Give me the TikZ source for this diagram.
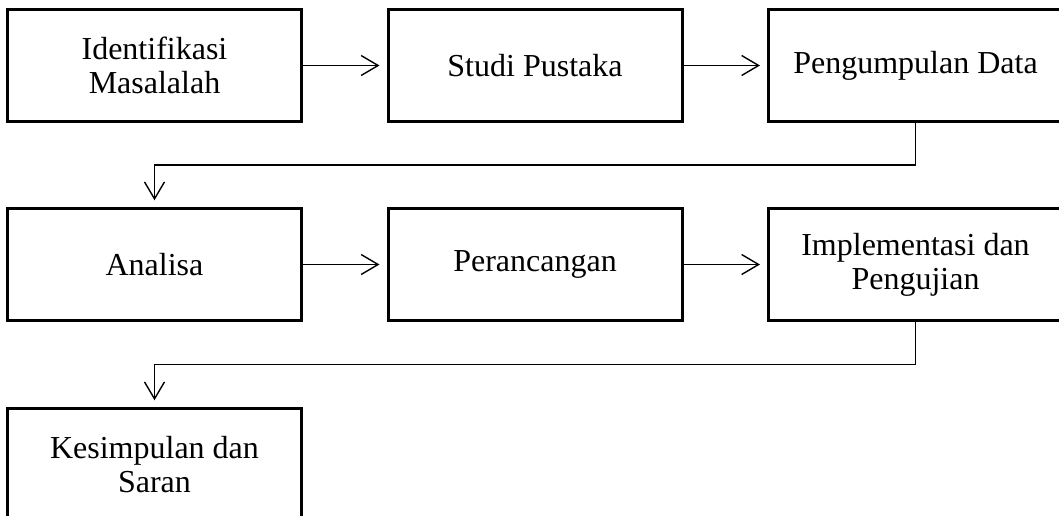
\documentclass[tikz,border=0pt]{standalone}
\usepackage{fontspec}
\setmainfont{Liberation Serif}
\usetikzlibrary{arrows.meta,calc}
\begin{document}
\begin{tikzpicture}[x=1pt,y=-1pt,
  stepbox/.style={draw=black,line width=3pt,fill=white,minimum width=294pt,minimum height=111.5pt,
    inner sep=0pt,align=center,font=\fontsize{32}{34}\selectfont},
  conn/.style={line width=1.4pt,-{Straight Barb[length=17pt,width=20pt,line width=1.4pt]},shorten >=7pt}]
\fill[white] (0,0) rectangle (1059,515);
\useasboundingbox (0,0) rectangle (1059,515);
\clip (0,0) rectangle (1059,515);
\node[stepbox] (b1) at (154.5,65.5) {Identifikasi\\Masalalah};
\node[stepbox] (b2) at (535,65.5) {Studi Pustaka};
\node[stepbox] (b3) at (915.5,65.5) {Pengumpulan Data};
\node[stepbox] (b4) at (154.5,264.5) {Analisa};
\node[stepbox] (b5) at (535,264.5) {Perancangan};
\node[stepbox] (b6) at (915.5,264.5) {Implementasi dan\\Pengujian};
\node[stepbox] (b7) at (154.5,464.5) {Kesimpulan dan\\Saran};
\draw[conn] (b1.east) -- (b2.west);
\draw[conn] (b2.east) -- (b3.west);
\draw[conn] (b4.east) -- (b5.west);
\draw[conn] (b5.east) -- (b6.west);
\coordinate (m1) at ($(b3.south)!0.5!(b4.north)$);
\coordinate (m2) at ($(b6.south)!0.5!(b7.north)$);
\draw[conn] (b3.south) |- (b4.north |- m1) -- (b4.north);
\draw[conn] (b6.south) |- (b7.north |- m2) -- (b7.north);
\end{tikzpicture}
\end{document}
